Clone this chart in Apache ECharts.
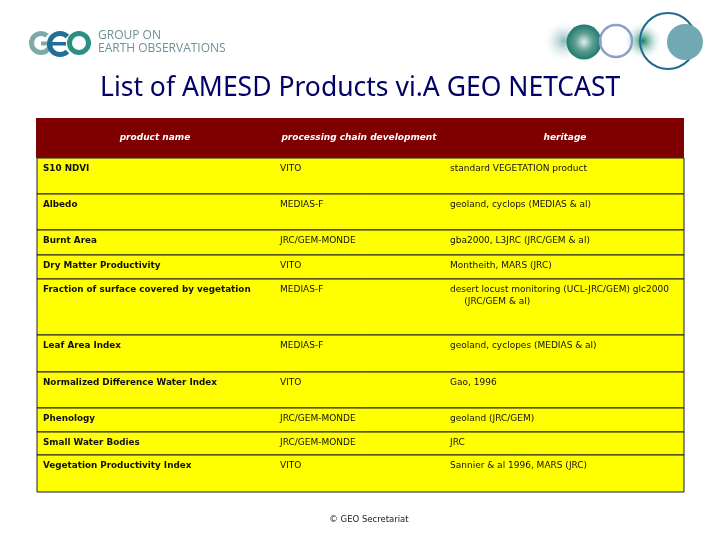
<!DOCTYPE html>
<html>
<head>
<meta charset="utf-8">
<title>List of AMESD Products via GEO NETCAST</title>
<style>
  html, body { margin: 0; padding: 0; background: #fff; }
  #chart { width: 720px; height: 540px; }
</style>
<script src="https://cdn.jsdelivr.net/npm/echarts@6/dist/echarts.min.js"></script>
</head>
<body>
<div id="chart"></div>
<script>
var headers = ['product name', 'processing chain development', 'heritage'];
var products = ['S10 NDVI', 'Albedo', 'Burnt Area', 'Dry Matter Productivity',
  'Fraction of surface covered by vegetation', 'Leaf Area Index',
  'Normalized Difference Water Index', 'Phenology', 'Small Water Bodies',
  'Vegetation Productivity Index'];
var chains = ['VITO', 'MEDIAS-F', 'JRC/GEM-MONDE', 'VITO', 'MEDIAS-F', 'MEDIAS-F',
  'VITO', 'JRC/GEM-MONDE', 'JRC/GEM-MONDE', 'VITO'];
var heritage = ['standard VEGETATION product', 'geoland, cyclops (MEDIAS & al)',
  'gba2000, L3JRC (JRC/GEM & al)', 'Montheith, MARS (JRC)',
  'desert locust monitoring (UCL-JRC/GEM) glc2000\n     (JRC/GEM & al)',
  'geoland, cyclopes (MEDIAS & al)', 'Gao, 1996', 'geoland (JRC/GEM)', 'JRC',
  'Sannier & al 1996, MARS (JRC)'];

// table layout, in page pixels
var rowEdges = [158, 194, 230, 255, 279, 335, 372, 408, 432, 455, 492];
var colText = [43, 280, 450];
var headCenter = [155, 359, 565];
var FONT = 'DejaVu Sans, Verdana, sans-serif';

var rowData = products.map(function (p, i) { return [i, rowEdges[i], rowEdges[i + 1]]; });

function renderRow(params, api) {
  var i = api.value(0);
  var tl = api.coord([37, api.value(1)]);
  var br = api.coord([684, api.value(2)]);
  var cells = [products[i], chains[i], heritage[i]];
  var children = [{
    type: 'rect',
    shape: { x: tl[0], y: tl[1], width: br[0] - tl[0], height: br[1] - tl[1] },
    style: { fill: '#ffff00', stroke: '#1a1a2e', lineWidth: 1 }
  }];
  cells.forEach(function (txt, c) {
    children.push({
      type: 'text',
      style: {
        x: api.coord([colText[c], 0])[0],
        y: tl[1] + 5,
        text: txt,
        fill: '#111',
        font: (c == 0 ? 'bold 8.8px ' : '9px ') + FONT,
        lineHeight: 12,
        textVerticalAlign: 'top'
      }
    });
  });
  return { type: 'group', children: children };
}

function renderHead(params, api) {
  var tl = api.coord([36, 118]);
  var br = api.coord([684, 158]);
  var kids = [{
    type: 'rect',
    shape: { x: tl[0], y: tl[1], width: br[0] - tl[0], height: br[1] - tl[1] },
    style: { fill: '#7f0000' }
  }];
  headers.forEach(function (h, c) {
    kids.push({
      type: 'text',
      style: {
        x: api.coord([headCenter[c], 0])[0],
        y: api.coord([0, 138])[1],
        text: h,
        fill: '#fff',
        font: 'italic bold 9px ' + FONT,
        textAlign: 'center',
        textVerticalAlign: 'middle'
      }
    });
  });
  return { type: 'group', children: kids };
}

function glow(cx, cy, r, color) {
  return {
    type: 'circle',
    shape: { cx: cx, cy: cy, r: r },
    style: {
      fill: {
        type: 'radial', x: 0.5, y: 0.5, r: 0.5,
        colorStops: [{ offset: 0, color: color }, { offset: 1, color: 'rgba(255,255,255,0)' }]
      }
    }
  };
}

function ring(cx, cy, r, color, w) {
  return {
    type: 'circle',
    shape: { cx: cx, cy: cy, r: r },
    style: { fill: 'none', stroke: color, lineWidth: w }
  };
}

function arc(cx, cy, r, a0, a1, color, w) {
  return {
    type: 'arc',
    shape: { cx: cx, cy: cy, r: r, startAngle: a0, endAngle: a1 },
    style: { fill: 'none', stroke: color, lineWidth: w }
  };
}

function bar(x, y, w, h, color) {
  return { type: 'rect', shape: { x: x, y: y, width: w, height: h }, style: { fill: color } };
}

var logo = [
  // GEO letters
  arc(41, 43, 9.5, 0, Math.PI * 1.72, '#7fa8ab', 5),
  bar(41, 41.5, 11, 4, '#7fa8ab'),
  arc(79, 43, 9.5, 0, Math.PI * 2, '#2b9080', 5),
  arc(60, 44, 10.5, Math.PI * 0.25, Math.PI * 1.75, '#1f6f96', 5),
  bar(50, 42, 16, 3.5, '#1f6f96'),
  // circles top right
  glow(564, 41, 22, 'rgba(100,160,165,0.75)'),
  {
    type: 'circle',
    shape: { cx: 584, cy: 42, r: 17.5 },
    style: {
      fill: {
        type: 'radial', x: 0.5, y: 0.5, r: 0.5,
        colorStops: [{ offset: 0, color: '#e4f0ec' }, { offset: 0.5, color: '#5f9f94' }, { offset: 1, color: '#1f7a6c' }]
      }
    }
  },
  glow(643, 41, 20, 'rgba(15,130,100,1)'),
  ring(616, 41, 16, '#8c9fc6', 2.5),
  ring(668, 41, 28, '#1f6a8e', 2),
  { type: 'circle', shape: { cx: 685, cy: 42, r: 18 }, style: { fill: '#70a8b4' } },
  // texts
  { type: 'text', style: { x: 98, y: 36, text: 'GROUP ON', fill: '#6f8f99', font: '12px "Open Sans", sans-serif', textVerticalAlign: 'middle' } },
  { type: 'text', style: { x: 98, y: 49, text: 'EARTH OBSERVATIONS', fill: '#6f8f99', font: '12px "Open Sans", sans-serif', textVerticalAlign: 'middle' } },
  { type: 'text', style: { x: 100, y: 88, text: 'List of AMESD Products vi.A GEO NETCAST', fill: '#000066', font: '26.5px "Noto Sans", sans-serif', textVerticalAlign: 'middle' } },
  { type: 'text', style: { x: 369, y: 520, text: '© GEO Secretariat', fill: '#222', font: '8.5px ' + FONT, textAlign: 'center', textVerticalAlign: 'middle' } }
];

var myChart = echarts.init(document.getElementById('chart'));
myChart.setOption({
  animation: false,
  backgroundColor: '#fff',
  grid: { left: 0, right: 0, top: 0, bottom: 0 },
  xAxis: { type: 'value', min: 0, max: 720, show: false },
  yAxis: { type: 'value', min: 0, max: 540, inverse: true, show: false },
  graphic: logo,
  series: [
    { type: 'custom', coordinateSystem: 'cartesian2d', renderItem: renderRow, data: rowData, silent: true },
    { type: 'custom', coordinateSystem: 'cartesian2d', renderItem: renderHead, data: [[0]], silent: true }
  ]
});
</script>
</body>
</html>
